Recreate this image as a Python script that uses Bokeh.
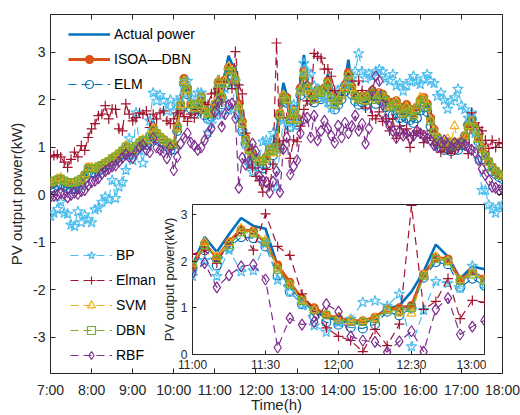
import numpy as np
from bokeh.plotting import figure
from bokeh.models import Range1d, LinearAxis, FixedTicker, Legend, LegendItem, GridBox
from bokeh.embed import file_html
from bokeh.resources import INLINE

# ---------------- data (5-minute samples, 7:00 .. 18:00) ----------------
N = 133
times = 7 + np.arange(N) * 5 / 60.0

actual = [
 0.20, 0.28, 0.40, 0.36, 0.26, 0.20, 0.18, 0.20, 0.24, 0.30, 0.45, 0.66,
 0.55, 0.52, 0.58, 0.62, 0.66, 0.72, 0.76, 0.82, 0.86, 0.95, 1.08, 0.98,
 0.92, 1.05, 1.12, 1.18, 1.14, 1.24, 1.55, 1.30, 1.22, 1.18, 1.10, 1.02,
 1.05, 1.50, 2.00, 2.52, 2.30, 1.95, 1.85, 1.95, 2.15, 1.80, 1.70, 1.75,
 1.90, 2.52, 2.20, 2.58, 2.93, 2.76, 2.70, 1.90, 1.45, 1.18, 0.92, 0.80,
 0.73, 0.68, 0.66, 0.80, 0.98, 1.05, 1.35, 1.78, 2.36, 2.10, 1.63, 1.89,
 1.83, 2.40, 2.95, 2.35, 2.15, 2.10, 2.25, 2.20, 2.30, 2.54, 2.10, 1.95,
 2.05, 2.20, 2.40, 2.85, 2.30, 2.15, 2.05, 2.10, 2.00, 2.15, 2.25, 2.05,
 2.20, 2.15, 2.05, 1.90, 1.85, 1.88, 1.80, 1.72, 1.65, 1.75, 1.68, 1.80,
 1.95, 2.00, 1.90, 1.58, 1.35, 1.20, 1.10, 1.05, 1.10, 1.02, 1.08, 1.05,
 1.15, 1.30, 1.55, 1.65, 1.40, 1.20, 0.95, 0.80, 0.68, 0.56, 0.50, 0.42, 0.38,
]
isoa_dbn = [
 0.22, 0.25, 0.33, 0.34, 0.28, 0.24, 0.22, 0.22, 0.25, 0.30, 0.42, 0.58,
 0.56, 0.54, 0.58, 0.62, 0.66, 0.70, 0.76, 0.80, 0.86, 0.93, 1.02, 0.98,
 0.93, 1.02, 1.10, 1.15, 1.14, 1.22, 1.42, 1.30, 1.22, 1.16, 1.10, 1.05,
 1.05, 1.45, 1.92, 2.45, 2.25, 1.92, 1.85, 1.92, 2.08, 1.80, 1.72, 1.74,
 1.88, 2.38, 2.08, 2.42, 2.68, 2.65, 2.40, 1.92, 1.55, 1.20, 1.00, 0.85,
 0.78, 0.73, 0.72, 0.80, 0.98, 1.00, 1.05, 1.72, 2.08, 2.05, 1.60, 1.78,
 1.62, 2.25, 2.62, 2.30, 2.15, 2.08, 2.22, 2.18, 2.25, 2.40, 2.10, 1.95,
 2.02, 2.15, 2.32, 2.58, 2.28, 2.12, 2.05, 2.08, 2.02, 2.12, 2.20, 2.05,
 2.15, 2.12, 2.02, 1.92, 1.95, 1.98, 1.85, 1.75, 1.90, 1.80, 1.70, 1.85,
 2.00, 2.05, 1.92, 1.62, 1.38, 1.22, 1.12, 1.08, 1.12, 1.05, 1.10, 1.08,
 1.12, 1.25, 1.48, 1.58, 1.42, 1.22, 1.00, 0.85, 0.70, 0.58, 0.50, 0.44, 0.40,
]
elm = [
 0.12, 0.15, 0.20, 0.22, 0.18, 0.14, 0.12, 0.13, 0.16, 0.22, 0.35, 0.48,
 0.48, 0.46, 0.50, 0.55, 0.60, 0.64, 0.70, 0.74, 0.80, 0.86, 0.95, 0.92,
 0.86, 0.95, 1.02, 1.08, 1.06, 1.12, 1.28, 1.20, 1.12, 1.08, 1.02, 0.95,
 0.96, 1.35, 1.80, 2.35, 2.12, 1.82, 1.72, 1.80, 1.95, 1.68, 1.60, 1.65,
 1.86, 2.24, 1.91, 2.29, 2.52, 2.50, 2.32, 1.70, 1.35, 1.08, 0.82, 0.69,
 0.64, 0.58, 0.56, 0.65, 0.92, 0.84, 0.99, 1.65, 1.98, 1.94, 1.44, 1.63,
 1.48, 2.10, 2.45, 2.15, 2.00, 1.95, 2.05, 2.02, 2.10, 2.25, 1.95, 1.80,
 1.90, 2.02, 2.18, 2.42, 2.12, 1.98, 1.90, 1.95, 1.88, 2.00, 2.08, 1.92,
 2.00, 1.98, 1.85, 1.70, 1.68, 1.72, 1.62, 1.55, 1.62, 1.58, 1.52, 1.62,
 1.78, 1.85, 1.75, 1.45, 1.22, 1.08, 1.00, 0.95, 0.98, 0.92, 0.96, 0.95,
 1.05, 1.22, 1.48, 1.60, 1.35, 1.12, 0.90, 0.75, 0.62, 0.50, 0.44, 0.38, 0.34,
]
bp = [
 -0.45, -0.38, -0.30, -0.15, -0.38, -0.40, -0.63, -0.66, -0.35, -0.58, -0.42, -0.52,
 -0.58, -0.31, -0.27, -0.15, -0.04, -0.10, 0.31, -0.07, 0.17, 0.27, 0.52, 1.19,
 0.73, 1.73, 0.94, 0.67, 1.20, 1.56, 2.15, 1.98, 2.10, 1.98, 1.77, 2.00,
 1.77, 1.95, 2.05, 2.33, 2.40, 2.05, 1.90, 2.15, 2.15, 1.80, 1.31, 1.50,
 1.68, 2.02, 1.68, 2.24, 1.78, 1.80, 2.39, 1.60, 1.34, 1.07, 0.62, 0.48,
 0.68, 0.76, 1.12, 1.15, 1.04, 1.30, 0.17, 0.95, 1.57, 1.53, 1.42, 1.90,
 1.50, 2.20, 2.77, 2.60, 2.54, 2.30, 2.20, 2.10, 2.05, 1.95, 1.83, 2.10,
 2.20, 2.25, 2.30, 2.40, 2.45, 2.60, 2.98, 2.60, 2.45, 2.55, 2.50, 2.60,
 2.64, 2.60, 2.45, 2.40, 2.54, 2.30, 2.35, 2.19, 2.30, 2.40, 2.50, 2.38,
 2.33, 2.45, 2.54, 2.40, 2.35, 2.08, 2.15, 2.00, 1.81, 1.98, 2.05, 2.23,
 1.88, 1.80, 1.62, 1.73, 1.30, 0.75, 0.10, 0.10, -0.21, -0.30, -0.38, -0.25, -0.21,
]
elman = [
 0.80, 0.83, 0.85, 0.80, 0.69, 0.58, 0.75, 0.90, 0.80, 1.04, 0.94, 1.21,
 1.39, 1.50, 1.67, 1.70, 1.88, 1.60, 1.81, 1.80, 1.39, 1.35, 1.92, 1.70,
 1.56, 1.63, 1.73, 1.70, 1.77, 1.42, 1.70, 1.60, 1.73, 1.77, 1.56, 1.50,
 1.60, 1.73, 1.77, 1.65, 1.55, 1.70, 1.62, 1.80, 1.75, 1.94, 1.90, 2.13,
 2.15, 2.24, 1.96, 2.40, 2.65, 2.24, 3.02, 2.32, 2.13, 1.30, 0.95, 0.57,
 0.39, 0.30, 0.06, 0.54, 0.19, 0.65, 3.20, 0.97, 1.14, 1.63, 0.77, 1.16,
 1.12, 1.45, 1.80, 1.98, 1.98, 2.98, 2.92, 2.88, 2.65, 2.65, 2.50, 2.20,
 2.05, 2.19, 2.30, 2.54, 2.40, 2.10, 2.40, 2.20, 1.83, 2.05, 1.67, 1.60,
 1.75, 1.55, 1.60, 1.35, 1.60, 1.19, 1.45, 1.30, 1.39, 1.00, 1.25, 1.35,
 1.30, 1.10, 1.20, 1.35, 1.15, 1.05, 0.90, 1.00, 0.95, 0.87, 0.95, 1.00,
 1.05, 1.10, 0.87, 1.73, 1.52, 1.42, 1.35, 1.15, 0.98, 1.15, 1.00, 1.10, 1.08,
]
svm = [
 0.25, 0.28, 0.34, 0.36, 0.30, 0.26, 0.24, 0.25, 0.28, 0.33, 0.44, 0.58,
 0.58, 0.56, 0.60, 0.64, 0.68, 0.72, 0.78, 0.82, 0.88, 0.95, 1.04, 1.00,
 0.95, 1.04, 1.12, 1.16, 1.15, 1.24, 1.40, 1.32, 1.24, 1.18, 1.12, 1.08,
 1.08, 1.42, 1.90, 2.40, 2.22, 1.90, 1.82, 1.90, 2.05, 1.78, 1.70, 1.72,
 1.95, 2.40, 2.10, 2.40, 2.70, 2.62, 2.45, 1.85, 1.50, 1.15, 0.95, 0.88,
 0.78, 0.72, 0.72, 0.78, 0.95, 0.88, 0.88, 1.70, 2.10, 2.00, 1.60, 1.75,
 1.60, 2.20, 2.55, 2.25, 2.10, 2.00, 2.18, 2.15, 2.22, 2.35, 2.05, 1.90,
 2.00, 2.12, 2.28, 2.52, 2.25, 2.10, 2.02, 2.05, 1.98, 2.10, 2.18, 2.02,
 2.12, 2.08, 1.98, 1.85, 1.90, 1.95, 1.82, 1.72, 1.85, 1.78, 1.68, 1.88,
 2.05, 2.02, 1.88, 1.58, 1.35, 1.20, 1.12, 1.10, 1.18, 1.10, 1.45, 1.10,
 1.12, 1.25, 1.45, 1.55, 1.38, 1.18, 0.98, 0.82, 0.68, 0.56, 0.48, 0.42, 0.38,
]
dbn = [
 0.28, 0.30, 0.32, 0.34, 0.30, 0.27, 0.26, 0.27, 0.30, 0.34, 0.42, 0.55,
 0.56, 0.55, 0.60, 0.63, 0.67, 0.71, 0.77, 0.81, 0.87, 0.93, 1.02, 0.99,
 0.94, 1.03, 1.10, 1.15, 1.14, 1.22, 1.36, 1.30, 1.22, 1.16, 1.10, 1.06,
 1.06, 1.40, 1.88, 2.38, 2.20, 1.90, 1.82, 1.90, 2.05, 1.78, 1.70, 1.72,
 1.90, 2.35, 2.05, 2.35, 2.62, 2.60, 2.42, 1.82, 1.50, 1.15, 0.95, 0.85,
 0.75, 0.70, 0.70, 0.76, 0.95, 0.93, 1.00, 1.68, 2.05, 2.00, 1.58, 1.72,
 1.58, 2.18, 2.52, 2.25, 2.10, 2.02, 2.18, 2.15, 2.22, 2.35, 2.05, 1.90,
 1.98, 2.10, 2.25, 2.50, 2.22, 2.08, 2.00, 2.05, 1.98, 2.08, 2.15, 2.00,
 2.10, 2.08, 1.98, 1.85, 1.88, 1.92, 1.80, 1.70, 1.82, 1.75, 1.66, 1.80,
 1.95, 2.00, 1.85, 1.55, 1.32, 1.18, 1.10, 1.05, 1.10, 1.02, 1.08, 1.05,
 1.10, 1.22, 1.45, 1.55, 1.38, 1.18, 0.96, 0.82, 0.70, 0.58, 0.50, 0.44, 0.40,
]
rbf = [
 -0.04, -0.02, 0.00, 0.04, 0.02, -0.05, 0.00, 0.05, 0.02, 0.08, 0.10, 0.20,
 0.27, 0.30, 0.35, 0.45, 0.50, 0.55, 0.60, 0.62, 0.70, 0.78, 0.85, 0.80,
 0.78, 0.90, 1.00, 1.05, 0.95, 0.90, 1.20, 1.00, 0.95, 0.90, 0.77, 1.00,
 0.52, 0.80, 1.08, 1.20, 1.30, 1.10, 1.04, 0.95, 1.00, 1.15, 1.30, 1.40,
 1.75, 1.96, 1.44, 1.70, 1.89, 1.93, 1.61, 0.15, 0.78, 0.64, 0.70, 1.08,
 0.92, 0.39, 0.30, 0.27, 0.05, 0.28, 0.50, 0.06, 0.97, 1.21, 0.43, 0.60,
 0.73, 1.30, 1.60, 1.63, 1.21, 1.67, 1.15, 1.35, 1.56, 1.40, 1.25, 1.10,
 1.46, 1.21, 1.52, 1.30, 1.45, 1.67, 1.35, 1.50, 1.08, 1.40, 2.20, 2.50,
 2.40, 1.90, 1.60, 1.45, 1.35, 1.20, 1.35, 1.25, 1.30, 1.20, 1.25, 1.35,
 1.30, 1.25, 1.20, 1.15, 1.05, 1.00, 1.10, 1.15, 1.05, 1.00, 1.10, 1.05,
 1.10, 1.05, 1.00, 0.95, 0.90, 0.73, 0.55, 0.42, 0.31, 0.17, 0.15, 0.10, 0.12,
]

x_ticks = [7, 8, 9, 10, 11, 12, 13, 14, 15, 16, 17, 18]
x_tick_labels = ["7:00", "8:00", "9:00", "10:00", "11:00", "12:00", "13:00",
                 "14:00", "15:00", "16:00", "17:00", "18:00"]
y_ticks = [-3, -2, -1, 0, 1, 2, 3]
y_tick_labels = ["-3", "-2", "-1", "0", "1", "2", "3"]
inset_x_ticks = [11, 11.5, 12, 12.5, 13]
inset_x_tick_labels = ["11:00", "11:30", "12:00", "12:30", "13:00"]
inset_y_ticks = [0, 1, 2, 3]
inset_y_tick_labels = ["0", "1", "2", "3"]

# ---------------- styles ----------------
FONT = "Liberation Sans"
INK = "#262626"
DASH = "8 5"
series = [
    # name, values, colour, line width, dash, marker, marker size, filled
    ("Actual power", actual, "#0072BD", 2.6, "solid", None, 0, False),
    ("ISOA\u2014DBN", isoa_dbn, "#D95319", 3.0, "solid", "circle", 8, True),
    ("ELM", elm, "#0072BD", 1.2, DASH, "circle", 9, False),
    ("BP", bp, "#4DBEEE", 1.2, DASH, "star", 11, False),
    ("Elman", elman, "#A2142F", 1.2, DASH, "cross", 10, False),
    ("SVM", svm, "#EDB120", 1.2, DASH, "triangle", 9, False),
    ("DBN", dbn, "#77AC30", 1.2, DASH, "square", 7, False),
    ("RBF", rbf, "#7E2F8E", 1.2, DASH, "diamond", 11, False),
]


def draw(fig):
    groups = []
    for name, ys, color, lw, dash, marker, size, filled in series:
        rs = [fig.line(times, ys, line_color=color, line_width=lw, line_dash=dash)]
        if marker:
            rs.append(fig.scatter(times, ys, marker=marker, size=size,
                                  line_color=color, line_width=1.2,
                                  fill_color=color if filled else None))
        groups.append((name, rs))
    return groups


def style(fig, xt, xl, yt, yl, tick_fs, label_fs, tick_len,
          xstd, ystd, xlstd, ylstd, mirror_ticks):
    for ax, t, l, std, lstd in ((fig.xaxis, xt, xl, xstd, xlstd),
                                 (fig.yaxis, yt, yl, ystd, ylstd)):
        ax.ticker = FixedTicker(ticks=t)
        ax.major_label_overrides = dict(zip(t, l))
        ax.major_tick_in = tick_len
        ax.major_tick_out = 0
        ax.minor_tick_in = 0
        ax.minor_tick_out = 0
        ax.axis_line_color = None
        ax.major_tick_line_color = INK
        ax.major_label_text_font = FONT
        ax.major_label_text_font_size = tick_fs
        ax.major_label_text_color = INK
        ax.major_label_standoff = std
        ax.axis_label_text_font = FONT
        ax.axis_label_text_font_size = label_fs
        ax.axis_label_text_font_style = "normal"
        ax.axis_label_text_color = INK
        ax.axis_label_standoff = lstd
    if mirror_ticks:
        # mirrored tick marks on the top and right edges (no labels drawn)
        for t, place in ((xt, "above"), (yt, "right")):
            mirror = LinearAxis(ticker=FixedTicker(ticks=t),
                                major_label_text_font_size="1px",
                                major_label_text_color=None,
                                major_label_standoff=0,
                                major_tick_in=tick_len, major_tick_out=0,
                                minor_tick_in=0, minor_tick_out=0,
                                axis_line_color=None, major_tick_line_color=INK)
            fig.add_layout(mirror, place)
    fig.xgrid.visible = False
    fig.ygrid.visible = False
    fig.outline_line_color = INK
    fig.outline_line_width = 1
    fig.outline_line_alpha = 1


# ---------------- main figure ----------------
p = figure(width=520, height=415, x_range=Range1d(7, 18), y_range=Range1d(-3.76, 3.8),
           output_backend="svg", toolbar_location=None,
           min_border_left=48, min_border_right=18, min_border_top=14, min_border_bottom=41,
           x_axis_label="Time(h)", y_axis_label="PV output power(kW)")
style(p, x_ticks, x_tick_labels, y_ticks, y_tick_labels, "14px", "15px", 5, 8, 5, -5, 5, True)
groups = draw(p)
items = [LegendItem(label=n, renderers=rs) for n, rs in groups]


def make_legend(its, loc):
    return Legend(items=its, location=loc, orientation="vertical",
                  glyph_width=42, glyph_height=20, label_height=20, spacing=5,
                  padding=0, margin=0, label_standoff=4,
                  background_fill_alpha=0, border_line_alpha=0,
                  label_text_font=FONT, label_text_font_size="14px",
                  label_text_color="#000000")


p.add_layout(make_legend(items[:3], (18, 279)))
p.add_layout(make_legend(items[3:], (20, 8)))

# ---------------- inset (frame 292 x 150 px at x=192, y=204 of the page) ----------------
IN_LEFT, IN_TOP = 50, 14
pin = figure(frame_width=292, frame_height=150, x_range=Range1d(11, 13), y_range=Range1d(0, 3.22),
             output_backend="svg", toolbar_location=None,
             min_border_left=IN_LEFT, min_border_right=2, min_border_top=IN_TOP, min_border_bottom=24,
             y_axis_label="PV output power(kW)",
             background_fill_color="white", border_fill_alpha=0)
style(pin, inset_x_ticks, inset_x_tick_labels, inset_y_ticks, inset_y_tick_labels,
      "12px", "13px", 4, 3, 5, 2, 1, False)
draw(pin)
pin.margin = (204 - IN_TOP, 0, 0, 192 - IN_LEFT)

layout = GridBox(children=[(p, 0, 0), (pin, 0, 0)], width=520, height=415,
                 styles={"overflow": "hidden"})

open("out.html", "w").write(file_html(layout, INLINE))
